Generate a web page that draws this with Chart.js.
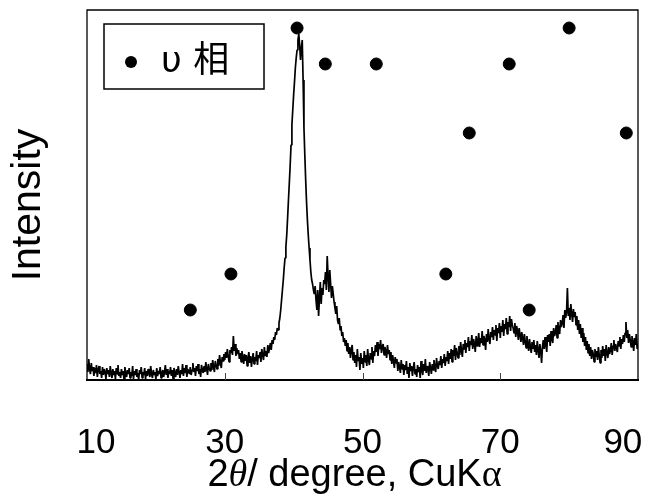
<!DOCTYPE html>
<html>
<head>
<meta charset="utf-8">
<script src="https://cdn.jsdelivr.net/npm/chart.js@4.4.0/dist/chart.umd.min.js"></script>
<style>
    html, body { margin: 0; padding: 0; background: #fff; }
    #wrap { width: 649px; height: 494px; }
</style>
</head>
<body>
<div id="wrap"><canvas id="xrd-chart"></canvas></div>
<script>
// scan: 2theta from 10 to 90 deg, 0.125 deg step (8 readings per degree, one row = 1 deg)
const scanStart = 10;
const scanStep = 0.125;
const intensity = [
    16, 8, 21, 11, 6, 17, 9, 13,
    4, 12, 7, 15, 3, 10, 14, 6,
    9, 2, 13, 5, 11, 8, 1, 12,
    6, 10, 3, 14, 7, 2, 11, 5,
    9, 1, 12, 6, 15, 4, 8, 2,
    11, 5, 9, 0, 13, 7, 3, 10,
    6, 12, 2, 8, 4, 14, 1, 9,
    5, 11, 3, 7, 0, 10, 6, 13,
    2, 8, 5, 12, 1, 9, 4, 11,
    7, 3, 14, 6, 2, 10, 5, 8,
    1, 12, 4, 9, 6, 13, 2, 7,
    10, 3, 8, 15, 5, 11, 2, 9,
    6, 13, 4, 10, 1, 12, 7, 3,
    11, 5, 14, 8, 2, 10, 6, 16,
    4, 12, 7, 15, 3, 11, 9, 6,
    13, 5, 10, 17, 8, 12, 4, 14,
    9, 16, 6, 11, 3, 15, 10, 7,
    14, 8, 18, 11, 5, 16, 12, 9,
    17, 10, 20, 13, 8, 19, 15, 11,
    21, 14, 25, 17, 12, 23, 19, 26,
    20, 28, 22, 31, 24, 18, 30, 27,
    33, 25, 44, 29, 36, 24, 32, 26,
    30, 21, 27, 18, 29, 23, 16, 26,
    19, 25, 14, 22, 28, 17, 24, 13,
    21, 27, 16, 23, 19, 29, 15, 25,
    22, 28, 18, 31, 25, 20, 33, 24,
    29, 23, 35, 27, 32, 37, 30, 40,
    36, 43, 40, 48, 45, 52, 50, 57,
    62, 70, 80, 90, 100, 112, 122, 133,
    145, 162, 180, 197, 215, 235, 255, 270,
    285, 298, 312, 322, 330, 340, 346, 335,
    320, 332, 340, 300, 252, 225, 200, 178,
    160, 145, 132, 120, 108, 100, 96, 90,
    86, 94, 80, 70, 90, 64, 82, 98,
    76, 92, 85, 100, 96, 108, 90, 124,
    104, 88, 110, 96, 82, 94, 86, 78,
    72, 66, 74, 60, 56, 62, 50, 54,
    44, 48, 38, 42, 34, 40, 29, 37,
    26, 33, 22, 30, 35, 20, 28, 17,
    25, 13, 31, 19, 23, 10, 27, 16,
    22, 12, 29, 18, 25, 14, 31, 20,
    15, 27, 21, 33, 17, 29, 24, 35,
    28, 38, 24, 36, 31, 40, 27, 34,
    36, 25, 33, 29, 22, 35, 26, 30,
    20, 28, 16, 25, 19, 12, 23, 17,
    21, 9, 18, 13, 7, 20, 11, 16,
    5, 15, 10, 19, 6, 13, 2, 17,
    9, 14, 4, 12, 18, 6, 11, 3,
    15, 8, 13, 2, 19, 10, 5, 16,
    9, 21, 7, 14, 11, 4, 18, 12,
    6, 16, 10, 20, 13, 8, 22, 14,
    11, 19, 15, 24, 12, 21, 17, 26,
    14, 23, 19, 29, 16, 27, 21, 31,
    18, 30, 24, 35, 20, 32, 27, 22,
    34, 25, 38, 29, 23, 36, 31, 40,
    27, 37, 33, 43, 29, 39, 35, 45,
    31, 41, 36, 28, 44, 34, 39, 47,
    33, 42, 37, 49, 35, 44, 40, 30,
    46, 38, 51, 41, 36, 48, 43, 53,
    40, 50, 45, 55, 39, 52, 47, 57,
    42, 54, 48, 60, 44, 56, 51, 62,
    46, 58, 53, 64, 49, 61, 55, 52,
    47, 57, 43, 54, 49, 40, 52, 45,
    38, 48, 42, 35, 46, 39, 32, 44,
    36, 29, 41, 33, 27, 38, 31, 40,
    28, 35, 25, 39, 30, 22, 36, 29,
    17, 33, 40, 31, 43, 35, 28, 45,
    38, 46, 34, 49, 41, 37, 52, 44,
    47, 55, 42, 58, 50, 46, 60, 53,
    57, 65, 52, 70, 62, 68, 92, 64,
    72, 60, 76, 66, 58, 71, 63, 68,
    55, 64, 50, 60, 46, 56, 42, 52,
    38, 47, 34, 43, 30, 39, 27, 36,
    24, 33, 21, 30, 26, 18, 31, 23,
    29, 20, 33, 25, 17, 30, 22, 34,
    24, 31, 19, 35, 27, 22, 33, 26,
    30, 37, 25, 34, 40, 29, 36, 32,
    28, 39, 34, 43, 31, 41, 36, 45,
    38, 47, 58, 42, 50, 37, 46, 40,
    33, 44, 38, 29, 42, 35, 46, 31,
    36
];

// upsilon phase peak markers
const phaseLabel = "υ 相";
const phasePeaks = [25.0, 30.9, 40.5, 44.6, 52.0, 62.1, 65.5, 71.3, 74.2, 80.0, 88.3];
const phaseMarkHeights = [70, 106, 352, 316, 316, 106, 247, 316, 70, 352, 247];

// x axis
const xTickAt = [11.3, 30, 50, 70, 87.8];
const xTickLabels = ["10", "30", "50", "70", "90"];
const xTickMarks = [30, 50, 70];

const sans = "'Liberation Sans', Arial, sans-serif";

const scan = intensity.map((y, i) => ({x: scanStart + i * scanStep, y: y}));
const marks = phasePeaks.map((x, i) => ({x: x, y: phaseMarkHeights[i]}));

// frame, inner tick marks, axis titles and the boxed legend
const decorations = {
    id: "decorations",
    afterDatasetsDraw(chart) {
        const ctx = chart.ctx;
        const {left, right, top, bottom} = chart.chartArea;
        const xScale = chart.scales.x;
        ctx.save();
        ctx.strokeStyle = "#000";
        ctx.lineWidth = 1.3;
        ctx.beginPath();
        ctx.moveTo(left, bottom);
        ctx.lineTo(left, top);
        ctx.lineTo(right, top);
        ctx.lineTo(right, bottom);
        ctx.stroke();
        ctx.lineWidth = 2;
        ctx.beginPath();
        ctx.moveTo(left - 1, bottom);
        ctx.lineTo(right + 1, bottom);
        ctx.stroke();

        ctx.lineWidth = 1;
        ctx.strokeStyle = "#444";
        xTickMarks.forEach(v => {
            const px = Math.round(xScale.getPixelForValue(v)) + 0.5;
            ctx.beginPath();
            ctx.moveTo(px, bottom);
            ctx.lineTo(px, bottom - 7);
            ctx.stroke();
        });

        // legend
        const lx = left + 17, ly = top + 14;
        ctx.strokeStyle = "#000";
        ctx.lineWidth = 1.5;
        ctx.fillStyle = "#fff";
        ctx.fillRect(lx, ly, 160, 65);
        ctx.strokeRect(lx, ly, 160, 65);
        ctx.fillStyle = "#000";
        ctx.beginPath();
        ctx.arc(lx + 27, ly + 38, 6, 0, Math.PI * 2);
        ctx.fill();
        ctx.font = "36px 'DejaVu Sans', 'Noto Sans CJK JP', sans-serif";
        ctx.textBaseline = "alphabetic";
        ctx.textAlign = "left";
        ctx.fillText(chart.data.datasets[1].label, lx + 57, ly + 48);

        // y title
        ctx.save();
        ctx.translate(29, (top + bottom) / 2 + 10);
        ctx.rotate(-Math.PI / 2);
        ctx.font = "41px " + sans;
        ctx.textAlign = "center";
        ctx.textBaseline = "middle";
        ctx.fillText("Intensity", 0, 0);
        ctx.restore();

        // x title: 2θ / degree, CuKα
        const parts = [
            ["2", "38px " + sans],
            ["θ", "italic 38px 'Liberation Serif', serif"],
            ["/ degree, CuK", "38px " + sans],
            ["α", "38px 'Liberation Serif', serif"],
        ];
        let total = 0;
        parts.forEach(p => { ctx.font = p[1]; total += ctx.measureText(p[0]).width; });
        let tx = (left + right) / 2 - 8 - total / 2;
        ctx.textAlign = "left";
        ctx.textBaseline = "alphabetic";
        parts.forEach(p => {
            ctx.font = p[1];
            ctx.fillText(p[0], tx, 486);
            tx += ctx.measureText(p[0]).width;
        });
        ctx.restore();
    }
};

new Chart(document.getElementById("xrd-chart").getContext("2d"), {
    data: {
        datasets: [{
            type: "line",
            label: "XRD",
            data: scan,
            borderColor: "#000",
            borderWidth: 1.7,
            borderJoinStyle: "bevel",
            pointRadius: 0,
            tension: 0,
            fill: false,
            order: 2,
        }, {
            type: "scatter",
            label: phaseLabel,
            data: marks,
            backgroundColor: "#000",
            borderColor: "#000",
            pointRadius: 6,
            pointStyle: "circle",
            order: 1,
        }],
    },
    options: {
        responsive: true,
        maintainAspectRatio: false,
        animation: false,
        layout: {
            padding: {left: 87, top: 10, right: 11, bottom: 0},
        },
        plugins: {
            legend: {display: false},
            tooltip: {enabled: false},
        },
        scales: {
            x: {
                type: "linear",
                min: 10,
                max: 90,
                grid: {display: false},
                border: {display: false},
                afterBuildTicks: (scale) => {
                    scale.ticks = xTickAt.map(v => ({value: v}));
                },
                afterFit: (scale) => { scale.height = 114; },
                ticks: {
                    color: "#000",
                    padding: 3,
                    autoSkip: false,
                    maxRotation: 0,
                    font: {family: sans, size: 35, lineHeight: 2.97},
                    callback: (v, i) => xTickLabels[i],
                },
            },
            y: {
                display: false,
                min: 0,
                max: 370,
            },
        },
    },
    plugins: [decorations],
});
</script>
</body>
</html>
